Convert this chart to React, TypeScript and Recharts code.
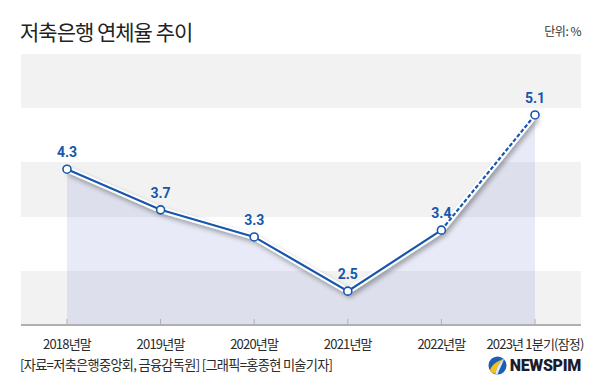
import { ComposedChart, Area, Line, XAxis, YAxis, CartesianGrid, LabelList } from 'recharts'

// ---------------------------------------------------------------------------
// Data
// ---------------------------------------------------------------------------
const periods = ['2018년말', '2019년말', '2020년말', '2021년말', '2022년말', '2023년 1분기(잠정)']
const rates = [4.3, 3.7, 3.3, 2.5, 3.4, 5.1]
// last point is provisional -> dashed segment
const provisionalFrom = 4
const yTicks = [2, 2.8, 3.6, 4.4, 5.2, 6]

const data = periods.map((period, i) => ({
  period,
  rate: rates[i],
  solid: i <= provisionalFrom ? rates[i] : null,
  dashed: i >= provisionalFrom ? rates[i] : null,
}))

const BLUE = '#1656ad'
const KR_FONT = '"Noto Sans CJK KR", "Noto Sans", sans-serif'

// ---------------------------------------------------------------------------
// Custom tick: short mark pointing up + label
// ---------------------------------------------------------------------------
function PeriodTick({ x, y, payload }: { x?: number; y?: number; payload?: { value: string } }) {
  return (
    <g>
      <line x1={x} x2={x} y1={(y ?? 0) - 6} y2={y} stroke="#b0b0b0" strokeWidth={1} />
      <text
        x={x}
        y={(y ?? 0) + 24}
        textAnchor="middle"
        fill="#2a2a2a"
        fontSize={13}
        fontFamily={KR_FONT}
        letterSpacing={-0.8}
      >
        {payload?.value}
      </text>
    </g>
  )
}

function Dot({ cx, cy }: { cx?: number; cy?: number }) {
  if (cx == null || cy == null) return null
  return <circle cx={cx} cy={cy} r={4} fill="#fff" stroke={BLUE} strokeWidth={1.6} />
}

// ---------------------------------------------------------------------------
// Component
// ---------------------------------------------------------------------------
export default function App() {
  return (
    <div style={{ position: 'absolute', left: 0, top: 0, width: 600, height: 390, background: '#fff', fontFamily: KR_FONT }}>
      <div style={{ position: 'absolute', left: 20, top: 16, fontSize: 21, color: '#222', letterSpacing: -1 }}>
        저축은행 연체율 추이
      </div>
      <div style={{ position: 'absolute', right: 19, top: 22, fontSize: 12, color: '#333', letterSpacing: -0.5 }}>
        단위: %
      </div>

      <ComposedChart width={600} height={390} data={data} margin={{ top: 54, right: 19, left: 21, bottom: 35 }}>
        <defs>
          <filter id="lineShadow" x="-10%" y="-10%" width="120%" height="130%">
            <feDropShadow dx={2} dy={3} stdDeviation={2.5} floodColor="#000" floodOpacity={0.35} />
          </filter>
        </defs>
        <CartesianGrid vertical={false} stroke="none" horizontalFill={['#f2f2f2', '#ffffff']} />
        <XAxis
          dataKey="period"
          height={30}
          padding={{ left: 46, right: 46 }}
          axisLine={{ stroke: '#b0b0b0', strokeWidth: 2 }}
          tickLine={false}
          tickSize={0}
          tickMargin={0}
          interval={0}
          tick={<PeriodTick />}
        />
        <YAxis hide domain={[2, 6]} ticks={yTicks} />
        <Area
          dataKey="rate"
          type="linear"
          stroke="none"
          fill="#6f82cc"
          fillOpacity={0.16}
          isAnimationActive={false}
        />
        <Line
          dataKey="rate"
          type="linear"
          stroke="#fff"
          strokeWidth={6}
          dot={false}
          filter="url(#lineShadow)"
          isAnimationActive={false}
        />
        <Line
          dataKey="dashed"
          type="linear"
          stroke={BLUE}
          strokeWidth={2.2}
          strokeDasharray="4 2"
          dot={false}
          isAnimationActive={false}
        />
        <Line
          dataKey="solid"
          type="linear"
          stroke={BLUE}
          strokeWidth={2.2}
          dot={false}
          isAnimationActive={false}
        />
        <Line dataKey="rate" type="linear" stroke="none" dot={<Dot />} isAnimationActive={false}>
          <LabelList
            dataKey="rate"
            position="top"
            offset={12}
            fill={BLUE}
            fontSize={14}
            fontWeight="bold"
            fontFamily="Roboto, Arial, sans-serif"
            formatter={(v: number) => v.toFixed(1)}
          />
        </Line>
      </ComposedChart>

      <div style={{ position: 'absolute', left: 20, top: 355, fontSize: 13.2, color: '#2a2a2a', letterSpacing: -0.7 }}>
        [자료=저축은행중앙회, 금융감독원] [그래픽=홍종현 미술기자]
      </div>
      <div style={{ position: 'absolute', right: 19, top: 356, display: 'flex', alignItems: 'center', gap: 3 }}>
        <svg width={19} height={19} viewBox="0 0 20 20">
          <circle cx={10} cy={10} r={9.5} fill="#1d5fb5" />
          <path d="M2 15 C5 8, 11 5, 17 3 C12 7, 9 11, 8 19 C5 18, 3 17, 2 15 Z" fill="#f5c21b" />
          <path d="M8 19 C9 11, 12 7, 17 3 C15 9, 12 14, 10 19.5 Z" fill="#fff" opacity={0.85} />
        </svg>
        <span style={{ fontFamily: 'Roboto, Arial, sans-serif', fontWeight: 900, fontSize: 16, color: '#1b1b2b', letterSpacing: -0.3 }}>
          NEWSPIM
        </span>
      </div>
    </div>
  )
}
